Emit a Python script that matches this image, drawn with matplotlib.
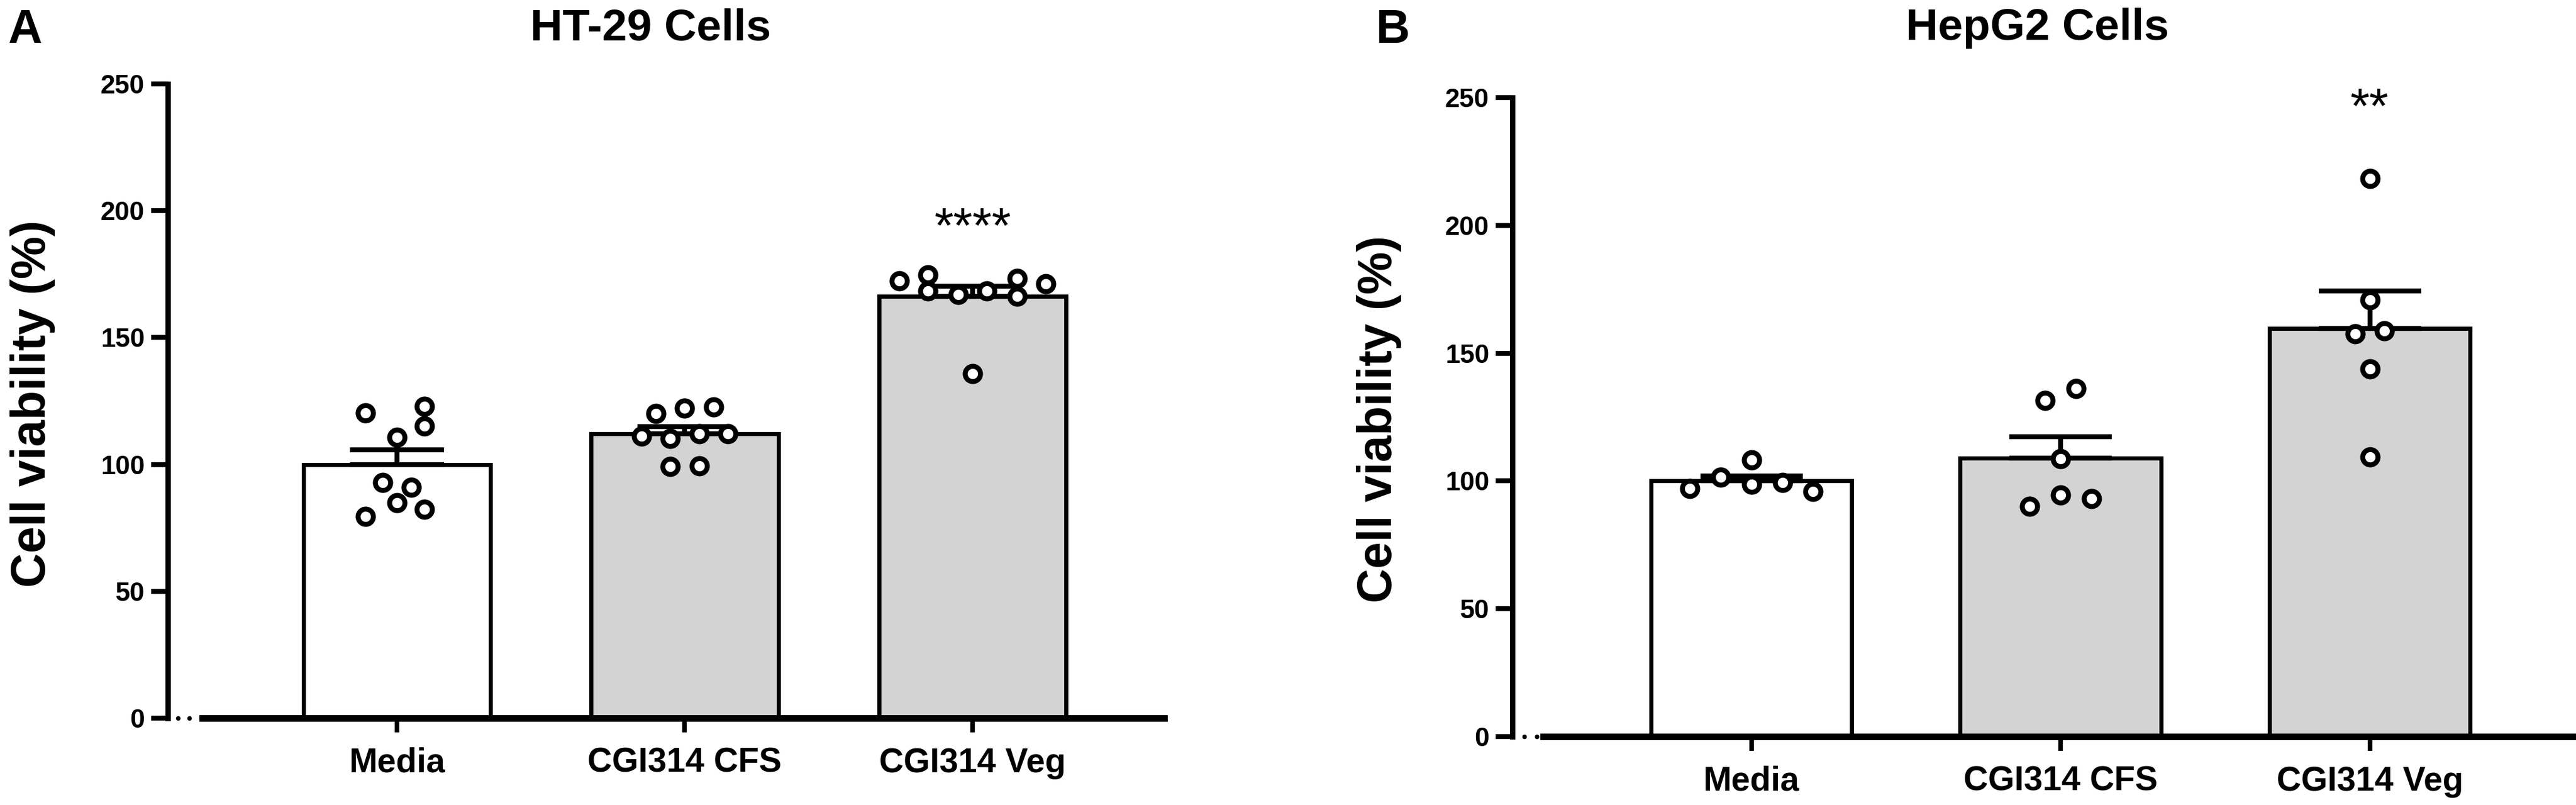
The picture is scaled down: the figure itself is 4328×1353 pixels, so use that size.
import matplotlib

matplotlib.use("Agg")
import matplotlib.pyplot as plt
import numpy as np

plt.rcParams["font.family"] = ["Liberation Sans", "DejaVu Sans"]
plt.rcParams["font.weight"] = "bold"

W, H = 4328, 1353

groups = ["Media", "CGI314 CFS", "CGI314 Veg"]
bar_colors = ["white", "#d3d3d3", "#d3d3d3"]

# HT-29 replicate values (% viability)
ht29_media = [120.2, 122.9, 115.1, 110.6, 92.9, 90.9, 85.0, 82.3, 79.6]
ht29_cfs = [120.0, 122.3, 122.6, 111.2, 110.2, 112.0, 112.1, 99.3, 99.5]
ht29_veg = [172.4, 174.8, 168.5, 166.9, 168.5, 173.2, 166.2, 171.2, 135.7]
ht29_stars = ["", "", "****"]

# HepG2 replicate values (% viability)
hepg2_media = [97.1, 101.6, 108.2, 98.7, 99.4, 96.0]
hepg2_cfs = [131.6, 136.2, 108.6, 90.2, 94.4, 93.1]
hepg2_veg = [218.3, 170.8, 157.5, 158.7, 143.8, 109.4]
hepg2_stars = ["", "", "**"]

# horizontal spread of the dots, in category units
ht29_media_dx = [-0.11, 0.095, 0.095, 0.0, -0.05, 0.05, 0.0, 0.095, -0.11]
ht29_cfs_dx = [-0.10, 0.0, 0.10, -0.15, -0.05, 0.05, 0.15, -0.05, 0.05]
ht29_veg_dx = [-0.255, -0.155, -0.155, -0.05, 0.05, 0.155, 0.155, 0.255, 0.0]
hepg2_media_dx = [-0.2, -0.1, 0.0, 0.0, 0.1, 0.2]
hepg2_cfs_dx = [-0.05, 0.05, 0.0, -0.1, 0.0, 0.1]
hepg2_veg_dx = [0.0, 0.0, -0.048, 0.048, 0.0, 0.0]


def px_axes(fig, left, right, top, bottom):
    return fig.add_axes([left / W, 1 - bottom / H, (right - left) / W, (bottom - top) / H])


def draw_panel(ax, sets, offsets, stars, star_y, xlim, axis_start, dots_x, cap):
    x = np.arange(len(groups))
    means = [np.mean(v) for v in sets]
    sems = [np.std(v, ddof=1) / np.sqrt(len(v)) for v in sets]

    ax.bar(x, means, width=0.65, color=bar_colors, edgecolor="black",
           linewidth=5, zorder=2)
    ax.errorbar(x, means, yerr=[np.zeros(3), sems], fmt="none", ecolor="black",
                elinewidth=6, capsize=cap, capthick=6, zorder=3)
    for i, (vals, dx) in enumerate(zip(sets, offsets)):
        ax.plot(x[i] + np.array(dx), vals, "o", ms=18.5, mfc="white", mec="black",
                mew=6, zorder=4, clip_on=False)
    for i, s in enumerate(stars):
        if s:
            ax.text(x[i], star_y, s, ha="center", va="baseline", fontsize=60,
                    fontweight="normal")

    ax.set_xlim(*xlim)
    ax.set_ylim(0, 250)
    ax.set_yticks([0, 50, 100, 150, 200, 250])
    ax.set_xticks(x)
    ax.set_xticklabels(groups)
    for side in ("top", "right"):
        ax.spines[side].set_visible(False)
    ax.spines["left"].set_linewidth(6.5)
    ax.spines["bottom"].set_linewidth(8)
    ax.spines["bottom"].set_bounds(axis_start, xlim[1])
    ax.spines["bottom"].set_zorder(5)
    ax.plot(dots_x, [0, 0], "o", ms=4.5, color="black", clip_on=False, zorder=5)
    ax.tick_params(axis="y", length=20, width=6, labelsize=32, pad=8)
    ax.tick_params(axis="x", length=17, width=5.5, labelsize=41, pad=18)
    for lab in ax.get_xticklabels() + ax.get_yticklabels():
        lab.set_fontweight("bold")


fig = plt.figure(figsize=(W / 100, H / 100), dpi=100)

ax_a = px_axes(fig, 282, 1956, 141, 1207)
draw_panel(ax_a, [ht29_media, ht29_cfs, ht29_veg],
           [ht29_media_dx, ht29_cfs_dx, ht29_veg_dx],
           ht29_stars, 187.5, (-0.796, 2.666), -0.676, [-0.761, -0.722], 57)

ax_b = px_axes(fig, 2541, 4328, 164, 1238)
draw_panel(ax_b, [hepg2_media, hepg2_cfs, hepg2_veg],
           [hepg2_media_dx, hepg2_cfs_dx, hepg2_veg_dx],
           hepg2_stars, 240, (-0.773, 2.667), -0.673, [-0.735, -0.694], 62)

# panel letters, titles and axis labels
fig.text(13 / W, 1 - 72 / H, "A", fontsize=57, fontweight="bold", va="baseline")
fig.text(2312 / W, 1 - 72 / H, "B", fontsize=57, fontweight="bold", va="baseline")
fig.text(1093 / W, 1 - 67 / H, "HT-29 Cells", fontsize=54, fontweight="bold",
         ha="center", va="baseline")
fig.text(3423 / W, 1 - 67 / H, "HepG2 Cells", fontsize=54, fontweight="bold",
         ha="center", va="baseline")
fig.text(55 / W, 1 - 678 / H, "Cell viability (%)", fontsize=58, fontweight="bold",
         rotation=90, ha="center", va="center")
fig.text(2317 / W, 1 - 704 / H, "Cell viability (%)", fontsize=58, fontweight="bold",
         rotation=90, ha="center", va="center")

fig.savefig("out.png", dpi=100, facecolor="white")
